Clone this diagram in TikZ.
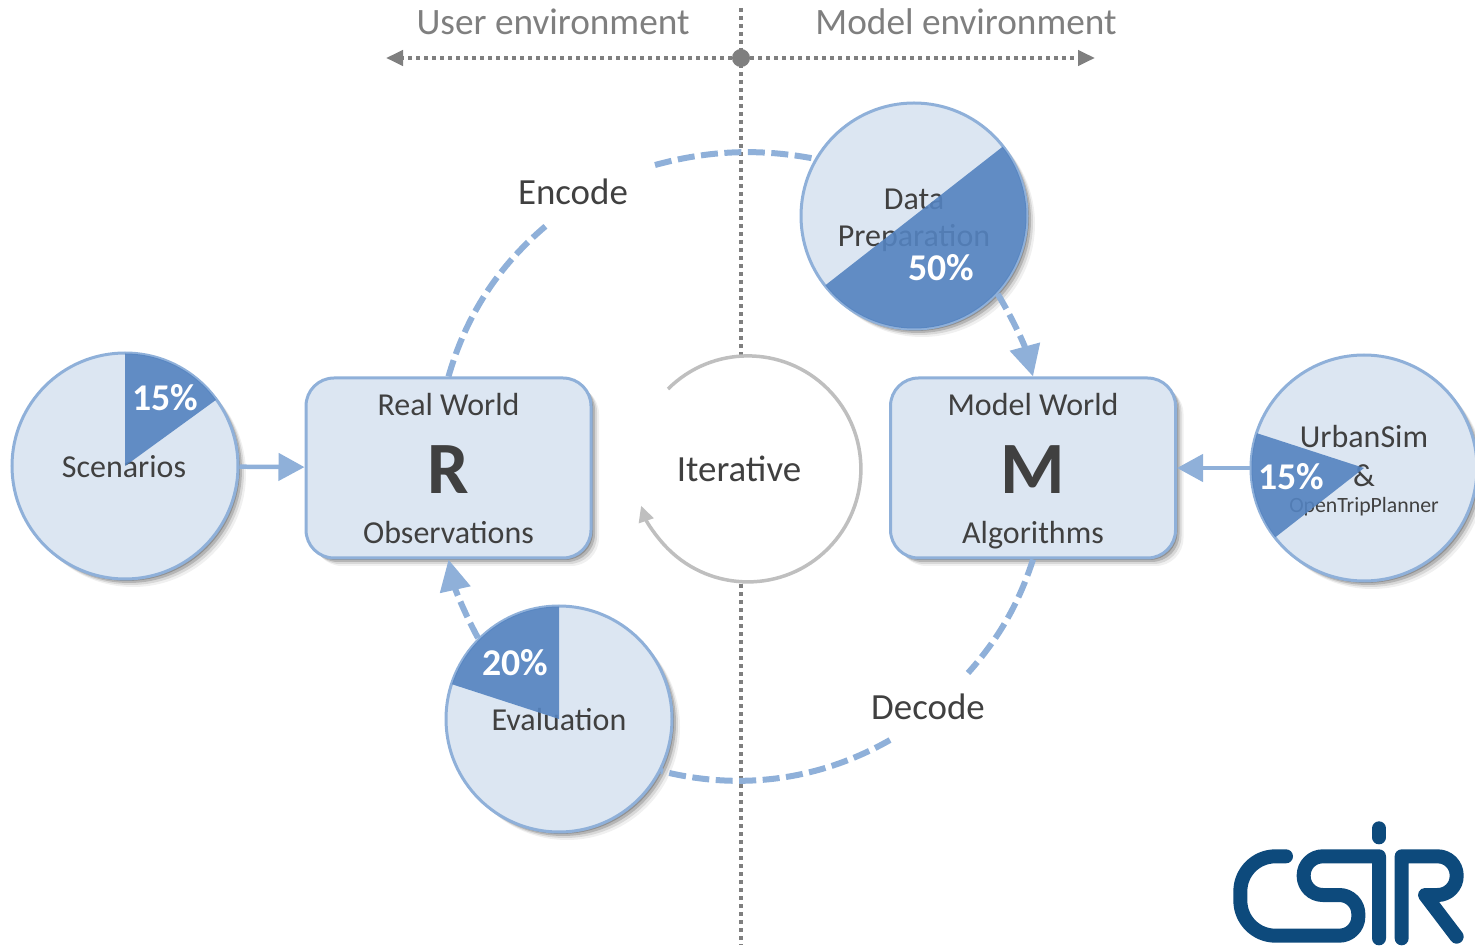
\documentclass[tikz,border=0pt]{standalone}
\usepackage{fontspec}
\setmainfont{Carlito}
\usetikzlibrary{arrows.meta,shadows}

\definecolor{boxfill}{HTML}{DCE6F2}
\definecolor{boxline}{HTML}{8FB0D9}
\definecolor{wedgeblue}{RGB}{84,131,192}
\definecolor{axisgray}{HTML}{7F7F7F}
\definecolor{textgray}{HTML}{404040}
\definecolor{loopgray}{HTML}{BFBFBF}
\definecolor{logoblue}{HTML}{0D4A7C}

\tikzset{
  softshadow/.style={
    drop shadow={shadow xshift=.16cm,shadow yshift=-.16cm,opacity=.06,fill=black},
    drop shadow={shadow xshift=.12cm,shadow yshift=-.12cm,opacity=.1,fill=black},
    drop shadow={shadow xshift=.08cm,shadow yshift=-.08cm,opacity=.16,fill=black},
    drop shadow={shadow xshift=.04cm,shadow yshift=-.04cm,opacity=.2,fill=black}},
  world/.style={draw=boxline,fill=boxfill,line width=.06cm,rounded corners=.56cm,
    minimum width=5.7cm,minimum height=3.6cm,inner sep=0,softshadow},
  stage/.style={circle,draw=boxline,fill=boxfill,line width=.06cm,
    minimum size=4.52cm,inner sep=0,softshadow},
  wedge/.style={fill=wedgeblue,opacity=.9},
  lbl/.style={text=textgray,inner sep=0,font=\fontsize{18.2}{20}\selectfont},
  biglbl/.style={text=textgray,inner sep=0,font=\fontsize{21}{23}\selectfont},
  envlbl/.style={text=axisgray,inner sep=0,font=\fontsize{21.2}{23}\selectfont},
  letter/.style={text=textgray,inner sep=0,font=\fontsize{42}{44}\selectfont\bfseries},
  pct/.style={text=white,inner sep=0,font=\fontsize{21.5}{23}\selectfont\bfseries},
  axis/.style={axisgray,line width=.08cm,dash pattern=on .08cm off .08cm},
  loopline/.style={boxline,line width=.12cm,dash pattern=on .34cm off .13cm,
    bend left=#1,looseness=.9},
  feed/.style={boxline,line width=.09cm,-{Triangle[length=.52cm,width=.54cm]}},
  loopend/.style={-{Triangle[length=.62cm,width=.6cm]}},
}

\begin{document}
\begin{tikzpicture}
\useasboundingbox (0,0) rectangle (29.5,18.9);

% environment axis
\coordinate (top) at (14.82,18.74);
\coordinate (bottom) at (14.82,0);
\coordinate (userend) at (7.72,17.74);
\coordinate (modelend) at (21.9,17.74);
\node[circle,fill=axisgray,minimum size=.36cm,inner sep=0] (hub) at (14.82,17.74) {};
\draw[axis] (top) -- (bottom);
\draw[axis,-{Triangle[length=.34cm,width=.3cm]}] (hub) -- (userend);
\draw[axis,-{Triangle[length=.34cm,width=.3cm]}] (hub) -- (modelend);
\node[envlbl] (user) at (11.06,18.46) {User environment};
\node[envlbl] (model) at (19.32,18.46) {Model environment};

% iterative loop
\node[circle,fill=white,minimum size=4.52cm,inner sep=0] (iter) at (14.96,9.52) {};
\coordinate (iterstart) at (13.36,11.12);
\draw[loopgray,line width=.07cm,-{Triangle[length=.32cm,width=.3cm]}] (iterstart) arc[start angle=135,end angle=-161,radius=2.26];
\node[biglbl] (iterlbl) at (14.78,9.52) {Iterative};

% worlds
\node[world] (rw) at (8.97,9.54) {};
\node[world] (mw) at (20.66,9.54) {};
\node[lbl] (rw1) at (8.97,10.8) {Real World};
\node[letter] (rw2) at (8.97,9.5) {R};
\node[lbl] (rw3) at (8.97,8.24) {Observations};
\node[lbl] (mw1) at (20.66,10.8) {Model World};
\node[letter] (mw2) at (20.66,9.5) {M};
\node[lbl] (mw3) at (20.66,8.2) {Algorithms};

% stages
\coordinate (enc1) at (10.94,14.4);
\coordinate (enc2) at (13.1,15.6);
\coordinate (dec1) at (19.36,5.44);
\coordinate (dec2) at (17.8,4.1);
\node[stage] (sc) at (2.5,9.58) {};
\node[stage] (us) at (27.28,9.54) {};
\node[stage] (dp) at (18.28,14.58) {};
\node[stage] (ev) at (11.18,4.52) {};

\draw[loopline=17] (rw.north) to (enc1);
\draw[loopline=13] (enc2) to (dp.150);
\draw[loopline=8,loopend] (dp.-43) to (mw.north);
\draw[loopline=12] (mw.south) to (dec1);
\draw[loopline=22] (dec2) to (ev.-27);
\draw[loopline=8,loopend] (ev.135) to (rw.south);
\draw[feed] (sc) -- (rw);
\draw[feed] (us) -- (mw);

\node[biglbl] (enc) at (11.46,15.06) {Encode};
\node[biglbl] (dec) at (18.56,4.76) {Decode};

% stage texts below the wedges
\node[lbl] (sc1) at (2.48,9.56) {Scenarios};
\node[lbl] (dp1) at (18.28,14.92) {Data};
\node[lbl] (dp2) at (18.28,14.14) {Preparation};
\node[lbl] (ev1) at (11.18,4.5) {Evaluation};
\node[lbl] (us1) at (27.28,10.16) {UrbanSim};
\node[lbl] (us2) at (27.28,9.38) {\&};
\node[lbl,font=\fontsize{12.4}{14}\selectfont] (us3) at (27.28,8.76) {OpenTripPlanner};

\fill[wedge] (sc.center) -- +(90:2.25) arc[start angle=90,end angle=36,radius=2.25] -- cycle;
\fill[wedge] (dp.center) -- +(38:2.25) arc[start angle=38,end angle=-142,radius=2.25] -- cycle;
\fill[wedge] (ev.center) -- +(90:2.25) arc[start angle=90,end angle=162,radius=2.25] -- cycle;
\fill[wedge] (us.center) -- +(162:2.25) arc[start angle=162,end angle=218,radius=2.25] -- cycle;

\node[pct] (sc2) at (3.3,10.94) {15\%};
\node[pct] (dp3) at (18.82,13.54) {50\%};
\node[pct] (ev2) at (10.3,5.64) {20\%};
\node[pct] (us4) at (25.82,9.36) {15\%};

% logo
\begin{scope}[shift={(24,2.9)},x=1cm/150,y=-1cm/150,logoblue,line width=.28cm,line cap=round,line join=round]
\draw[rounded corners=.7cm] (258,169) -- (121,169) -- (121,407) [rounded corners=.38cm] -- (475,407) -- (475,285) -- (311,285) -- (311,169) [sharp corners] -- (537,169) -- (537,415);
\draw (537,85) -- (537,112);
\draw (605,415) -- (605,169) [rounded corners=.38cm] -- (770,169) -- (770,285) [sharp corners] -- (675,285) -- (770,410);
\end{scope}

\end{tikzpicture}
\end{document}
